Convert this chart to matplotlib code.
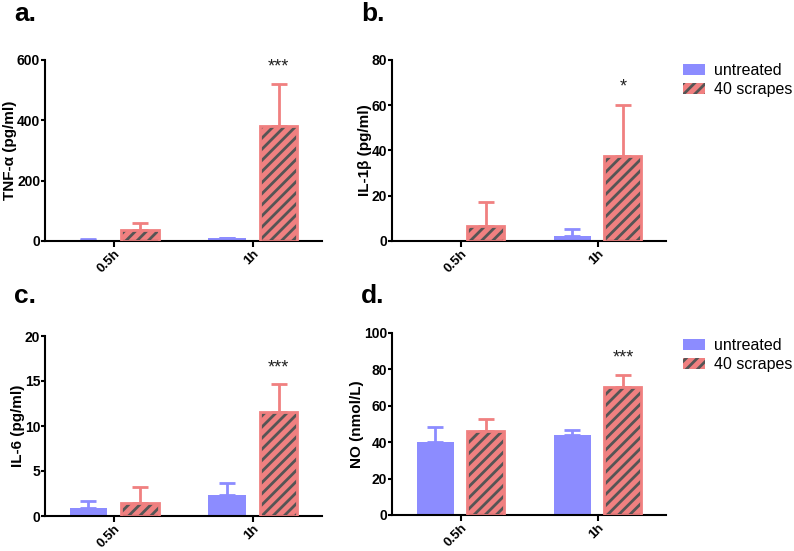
import numpy as np
import matplotlib
matplotlib.use('Agg')
import matplotlib.pyplot as plt
from matplotlib.patches import Patch

plt.rcParams['font.family'] = ['Liberation Sans', 'DejaVu Sans']
plt.rcParams['hatch.linewidth'] = 2.0

groups = ['0.5h', '1h']
series = ['untreated', '40 scrapes']

# panel data: means and upper error (SEM)
tnf_untreated = [3, 9]
tnf_untreated_err = [2, 2]
tnf_scrapes = [37, 380]
tnf_scrapes_err = [24, 139]

il1b_untreated = [0, 2.3]
il1b_untreated_err = [0, 2.9]
il1b_scrapes = [6.5, 37.7]
il1b_scrapes_err = [10.6, 22.3]

il6_untreated = [0.92, 2.28]
il6_untreated_err = [0.8, 1.43]
il6_scrapes = [1.47, 11.54]
il6_scrapes_err = [1.73, 3.16]

no_untreated = [40, 43.7]
no_untreated_err = [8.4, 3.1]
no_scrapes = [46.4, 70.5]
no_scrapes_err = [6.3, 6.4]

blue = '#8c8cff'
red = '#f08080'
hatch_col = '#555555'

W, H = 794, 551
fig = plt.figure(figsize=(W / 100, H / 100), dpi=100)


def px_axes(left, top, right, bottom):
    return fig.add_axes([left / W, 1 - bottom / H, (right - left) / W, (bottom - top) / H])


def panel(ax, unt, unt_err, scr, scr_err, ylim, yticks, ylabel, star, star_y):
    x = np.arange(len(groups))
    off, w = 0.186, 0.27
    ax.errorbar(x - off, unt, yerr=[np.zeros(len(unt)), unt_err], fmt='none',
                ecolor=blue, elinewidth=2, capsize=6, capthick=2, zorder=1)
    ax.errorbar(x + off, scr, yerr=[np.zeros(len(scr)), scr_err], fmt='none',
                ecolor=red, elinewidth=2, capsize=6, capthick=2, zorder=1)
    ax.bar(x - off, unt, w, color=blue, linewidth=0, zorder=2)
    ax.bar(x + off, scr, w, facecolor=red, edgecolor=hatch_col, hatch='///',
           linewidth=0, zorder=2)
    ax.bar(x + off, scr, w, fill=False, edgecolor=red, linewidth=2, zorder=3)
    ax.text(x[-1] + off, star_y, star, ha='center', va='center', fontsize=13,
            color='#222222')
    ax.set_xlim(-0.5, 1.5)
    ax.set_ylim(*ylim)
    ax.set_yticks(yticks)
    ax.set_xticks(x)
    ax.set_xticklabels(groups, rotation=45, ha='right', rotation_mode='anchor',
                       fontweight='bold', fontsize=9.5)
    for lab in ax.get_yticklabels():
        lab.set_fontweight('bold')
        lab.set_fontsize(10)
    ax.set_ylabel(ylabel, fontweight='bold', fontsize=11, labelpad=0)
    for s in ['top', 'right']:
        ax.spines[s].set_visible(False)
    for s in ['left', 'bottom']:
        ax.spines[s].set_linewidth(1.5)
    ax.tick_params(axis='y', width=1.5, length=3, pad=0.5)
    ax.tick_params(axis='x', width=1.5, length=4, pad=1)


ax_a = px_axes(45, 60, 322, 241)
panel(ax_a, tnf_untreated, tnf_untreated_err, tnf_scrapes, tnf_scrapes_err,
      (0, 600), [0, 200, 400, 600], 'TNF-α (pg/ml)', '***', 577)

ax_b = px_axes(392, 60, 666, 241)
panel(ax_b, il1b_untreated, il1b_untreated_err, il1b_scrapes, il1b_scrapes_err,
      (0, 80), [0, 20, 40, 60, 80], 'IL-1β (pg/ml)', '*', 68)

ax_c = px_axes(45, 336, 322, 516)
panel(ax_c, il6_untreated, il6_untreated_err, il6_scrapes, il6_scrapes_err,
      (0, 20), [0, 5, 10, 15, 20], 'IL-6 (pg/ml)', '***', 16.5)

ax_d = px_axes(392, 333, 666, 515)
panel(ax_d, no_untreated, no_untreated_err, no_scrapes, no_scrapes_err,
      (0, 100), [0, 20, 40, 60, 80, 100], 'NO (nmol/L)', '***', 86)

handles = [Patch(facecolor=blue, linewidth=0),
           Patch(facecolor=red, edgecolor=hatch_col, hatch='///', linewidth=0)]
for ax, ytop in [(ax_b, 63), (ax_d, 338)]:
    ax.legend(handles, series, loc='upper left',
              bbox_to_anchor=(683 / W, 1 - ytop / H), bbox_transform=fig.transFigure,
              frameon=False, fontsize=11.5, handlelength=1.38, handleheight=0.75,
              handletextpad=0.55, labelspacing=0.25, borderpad=0, borderaxespad=0)

for lab, xp, yp in [('a.', 14, 21), ('b.', 361, 21), ('c.', 14, 303), ('d.', 361, 303)]:
    fig.text(xp / W, 1 - yp / H, lab, fontsize=19, fontweight='bold', va='baseline')

fig.savefig('out.png', dpi=100)
